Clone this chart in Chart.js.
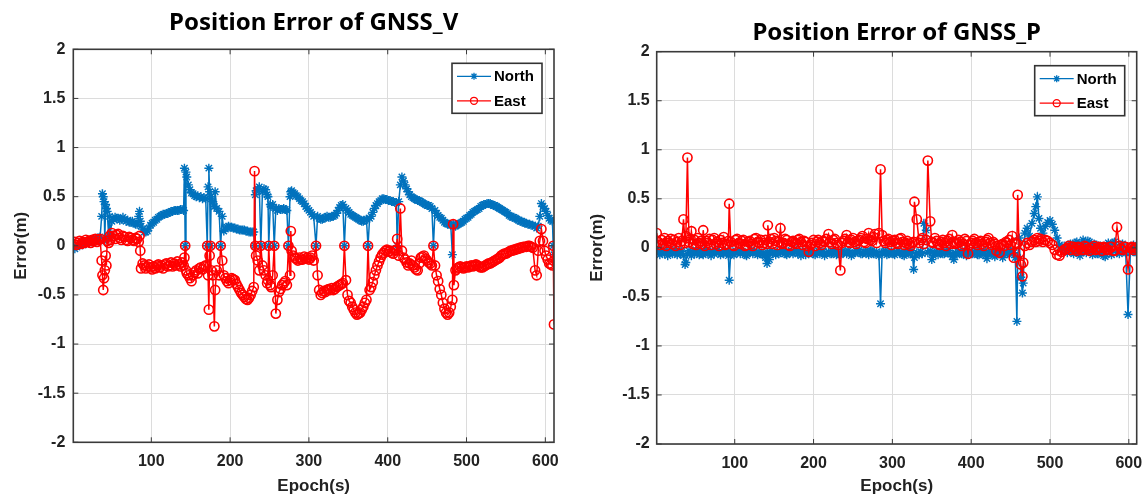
<!DOCTYPE html>
<html lang="en">
<head>
<meta charset="utf-8">
<title>Position Error of GNSS</title>
<script src="https://cdn.jsdelivr.net/npm/chart.js@4.4.0/dist/chart.umd.min.js"></script>
<style>
  body { margin: 0; background: #fff; overflow: hidden; }
  .plot { position: absolute; top: 0; height: 500px; }
  #boxV { left: 0; width: 580px; }
  #boxP { left: 580px; width: 580px; }
</style>
</head>
<body>
<div class="plot" id="boxV"><canvas id="chartV"></canvas></div>
<div class="plot" id="boxP"><canvas id="chartP"></canvas></div>

<script>
// ---- GNSS_V : epoch (s), north / east error (m)
// one line per stretch of the record so the three arrays stay aligned
const epochV = [
  1, 3, 5, 7, 9, 11, 13, 15, 17, 19, 21, 23, 25, 27, 29, 31, 33, 35,
  37, 38, 39, 40, 41, 42, 43, 44, 46, 47, 48,
  50, 52, 54, 56, 58, 60, 62, 64, 66, 68, 70, 72, 74, 76, 78, 80, 82,
  84, 85, 86, 87, 89,
  91, 93, 95, 97, 99, 101, 103, 105, 107, 109, 111, 113, 115, 117, 119, 121, 123, 125, 127, 129, 131, 133, 135, 137, 139,
  141, 142, 143, 144, 145,
  147, 149, 151, 153, 155, 157, 159, 161, 163, 165, 167, 169,
  171, 172, 173, 174, 175, 176, 178, 180, 181, 183,
  186, 188, 190, 192,
  194, 196, 198, 200, 202, 204, 206, 208, 210, 212, 214, 216, 218, 220, 222, 224, 226, 228, 230,
  231, 232, 233, 235, 237, 239, 241, 243, 245, 247, 248, 249, 251, 252, 254, 256, 258, 260, 262, 264, 266, 268, 270, 272, 274,
  276, 277, 278,
  280, 282, 284, 286, 288, 290, 292, 294, 296, 298, 300, 302, 304, 306,
  309, 311, 313,
  315, 317, 319, 321, 323, 325, 327, 329, 331, 333, 335, 337, 339, 341, 343,
  345, 347,
  349, 351, 353, 355, 357, 359, 361, 363, 365, 367, 369, 371, 373,
  375,
  377, 379, 381, 383, 385, 387, 389, 391, 393, 395, 397, 399, 401, 403, 405, 407, 409, 411,
  412, 414, 416, 418, 420,
  422, 424, 426, 428, 430, 432, 434, 436, 438, 440, 442, 444, 446, 448, 450, 452, 454, 456,
  458,
  460, 462, 464, 466, 468, 470, 472, 474, 476, 478, 480,
  482, 483, 484, 486,
  488, 490, 492, 494, 496, 498, 500, 502, 504, 506, 508, 510, 512, 514, 516, 518, 520, 522, 524, 526,
  528, 530, 532, 534, 536, 538, 540, 542, 544, 546, 548, 550, 552, 554, 556, 558, 560, 562, 564, 566,
  568, 570, 572, 574, 576, 578, 580, 582, 584,
  587, 589, 591, 593, 595, 597, 599, 601, 603, 605, 607, 609, 610, 611
];
const northV = [
  0.00, -0.03, -0.01, 0.01, 0.00, 0.02, 0.01, 0.03, 0.02, 0.04, 0.03, 0.05, 0.04, 0.06, 0.07, 0.06, 0.08, 0.09,
  0.30, 0.53, 0.50, 0.45, 0.05, 0.42, 0.38, 0.35, 0.08, 0.30, 0.12,
  0.25, 0.27, 0.29, 0.28, 0.28, 0.26, 0.27, 0.29, 0.27, 0.25, 0.26, 0.24, 0.24, 0.25, 0.23, 0.22, 0.22,
  0.30, 0.35, 0.25, 0.20, 0.17,
  0.14, 0.14, 0.15, 0.18, 0.21, 0.23, 0.24, 0.26, 0.27, 0.29, 0.30, 0.31, 0.32, 0.32, 0.33, 0.33, 0.34, 0.35, 0.35, 0.36, 0.36, 0.36, 0.36, 0.37, 0.37,
  0.36, 0.79, 0.00, 0.75, 0.70,
  0.62, 0.57, 0.54, 0.53, 0.51, 0.50, 0.51, 0.49, 0.50, 0.48, 0.49, 0.48,
  0.00, 0.60, 0.79, 0.55, 0.00, 0.50, 0.45, 0.40, 0.55, 0.38,
  0.35, 0.00, 0.30, 0.15,
  0.17, 0.19, 0.20, 0.19, 0.19, 0.18, 0.18, 0.17, 0.17, 0.16, 0.16, 0.16, 0.16, 0.15, 0.15, 0.14, 0.14, 0.14, 0.14,
  0.00, 0.52, 0.56, 0.58, 0.60, 0.00, 0.55, 0.58, 0.57, 0.52, 0.50, 0.00, 0.42, 0.40, 0.42, 0.00, 0.38, 0.36, 0.38, 0.37, 0.37, 0.38, 0.37, 0.36, 0.00,
  0.50, 0.55, 0.56,
  0.54, 0.53, 0.51, 0.50, 0.48, 0.46, 0.45, 0.43, 0.40, 0.38, 0.36, 0.34, 0.32, 0.30,
  0.00, 0.30, 0.28,
  0.27, 0.27, 0.28, 0.29, 0.30, 0.29, 0.29, 0.30, 0.30, 0.31, 0.33, 0.36, 0.39, 0.41, 0.42,
  0.00, 0.38,
  0.36, 0.34, 0.32, 0.31, 0.30, 0.29, 0.28, 0.27, 0.26, 0.25, 0.25, 0.26, 0.27,
  0.00,
  0.28, 0.30, 0.34, 0.38, 0.41, 0.43, 0.45, 0.46, 0.48, 0.48, 0.47, 0.47, 0.46, 0.46, 0.45, 0.45, 0.44, 0.44,
  0.00, 0.45, 0.62, 0.70, 0.66,
  0.62, 0.58, 0.55, 0.52, 0.50, 0.49, 0.48, 0.47, 0.46, 0.46, 0.45, 0.44, 0.43, 0.42, 0.41, 0.41, 0.40, 0.38,
  0.00,
  0.36, 0.33, 0.31, 0.29, 0.28, 0.26, 0.24, 0.23, 0.22, 0.22, 0.21,
  -0.09, 0.22, 0.21, 0.20,
  0.21, 0.22, 0.23, 0.24, 0.25, 0.27, 0.28, 0.29, 0.31, 0.32, 0.34, 0.35, 0.36, 0.37, 0.38, 0.40, 0.41, 0.42, 0.42, 0.43,
  0.43, 0.43, 0.42, 0.41, 0.41, 0.40, 0.39, 0.38, 0.37, 0.36, 0.35, 0.34, 0.33, 0.31, 0.30, 0.29, 0.29, 0.28, 0.27, 0.26,
  0.25, 0.25, 0.24, 0.23, 0.23, 0.22, 0.22, 0.21, 0.21,
  0.20, 0.18, 0.20, 0.30, 0.43, 0.40, 0.38, 0.35, 0.31, 0.28, 0.26, 0.25, 0.00, -0.09
];
const eastV = [
  0.02, 0.04, 0.01, 0.03, 0.05, 0.02, 0.04, 0.03, 0.06, 0.04, 0.05, 0.03, 0.06, 0.05, 0.07, 0.04, 0.06, 0.07,
  -0.15, -0.30, -0.45, -0.33, -0.25, -0.10, -0.20, 0.05, 0.03, 0.10, 0.06,
  0.13, 0.10, 0.07, 0.11, 0.12, 0.08, 0.06, 0.10, 0.09, 0.06, 0.05, 0.09, 0.08, 0.06, 0.05, 0.08, 0.07,
  0.04, 0.10, -0.05, -0.23, -0.18,
  -0.20, -0.23, -0.21, -0.19, -0.22, -0.24, -0.21, -0.23, -0.20, -0.19, -0.22, -0.20, -0.23, -0.19, -0.18, -0.21, -0.20, -0.17, -0.21, -0.18, -0.20, -0.16, -0.19, -0.21, -0.17,
  -0.20, -0.12, 0.00, -0.25, -0.28,
  -0.30, -0.33, -0.36, -0.30, -0.27, -0.25, -0.28, -0.23, -0.22, -0.24, -0.21, -0.20,
  0.00, -0.30, -0.65, -0.10, 0.00, -0.25, -0.30, -0.82, -0.45, -0.25,
  -0.30, 0.00, -0.15, -0.30,
  -0.33, -0.36, -0.38, -0.35, -0.33, -0.34, -0.35, -0.39, -0.42, -0.45, -0.48, -0.50, -0.52, -0.54, -0.55, -0.53, -0.50, -0.46, -0.42,
  0.76, 0.00, -0.10, -0.15, -0.25, 0.00, -0.20, -0.25, -0.30, -0.38, -0.35, 0.00, -0.40, -0.42, -0.30, 0.00, -0.69, -0.55, -0.47, -0.44, -0.40, -0.38, -0.36, -0.40, 0.00,
  -0.30, 0.15, -0.05,
  -0.10, -0.12, -0.13, -0.15, -0.12, -0.14, -0.14, -0.11, -0.13, -0.12, -0.14, -0.12, -0.10, -0.15,
  0.00, -0.30, -0.45,
  -0.50, -0.48, -0.46, -0.47, -0.45, -0.44, -0.45, -0.43, -0.45, -0.44, -0.42, -0.41, -0.40, -0.39, -0.38,
  0.00, -0.35,
  -0.50, -0.56, -0.58, -0.62, -0.65, -0.68, -0.70, -0.69, -0.68, -0.65, -0.62, -0.58, -0.55,
  0.00,
  -0.45, -0.42, -0.37, -0.30, -0.25, -0.20, -0.16, -0.12, -0.09, -0.07, -0.05, -0.04, -0.06, -0.05, -0.07, -0.08, -0.05, -0.04,
  0.07, -0.10, 0.38, -0.05, -0.12,
  -0.14, -0.17, -0.20, -0.18, -0.15, -0.20, -0.22, -0.24, -0.25, -0.18, -0.12, -0.11, -0.10, -0.13, -0.15, -0.17, -0.18, -0.20,
  0.00,
  -0.20, -0.30, -0.36, -0.44, -0.50, -0.58, -0.64, -0.68, -0.70, -0.68, -0.62,
  -0.55, 0.22, -0.40, -0.25,
  -0.23, -0.22, -0.21, -0.22, -0.23, -0.22, -0.21, -0.22, -0.21, -0.20, -0.21, -0.20, -0.19, -0.20, -0.21, -0.22, -0.22, -0.21, -0.20, -0.19,
  -0.18, -0.18, -0.17, -0.16, -0.15, -0.14, -0.13, -0.12, -0.10, -0.09, -0.08, -0.08, -0.07, -0.06, -0.05, -0.05, -0.04, -0.04, -0.03, -0.03,
  -0.02, -0.02, -0.01, -0.01, -0.01, 0.00, 0.00, -0.01, -0.02,
  -0.25, -0.30, -0.05, 0.05, 0.17, 0.05, -0.05, -0.10, -0.14, -0.18, -0.19, -0.20, 0.00, -0.80
];

// ---- GNSS_P : right panel
const epochP = [
  1, 3, 5, 7, 9, 11, 13, 15, 17, 19,
  21, 23, 25, 27, 29, 31, 33, 35, 37, 38,
  40, 42, 44, 45, 47, 49, 51, 53, 55, 57,
  59, 60, 62, 64, 66, 68, 70, 72, 74, 76,
  78, 80, 82, 84, 86, 88, 90, 92, 93, 95,
  97, 99, 101, 103, 105, 107, 109, 111, 113, 115,
  117, 119, 121, 123, 125, 127, 129, 131, 133, 135,
  137, 139, 141, 142, 144, 146, 148, 150, 152, 154,
  156, 158, 160, 162, 164, 166, 168, 170, 172, 174,
  176, 178, 180, 182, 184, 186, 188, 190, 192, 194,
  196, 198, 200, 202, 204, 206, 208, 210, 212, 214,
  216, 219, 221, 223, 225, 227, 229, 231, 234, 236,
  238, 240, 242, 244, 246, 248, 250, 252, 254, 256,
  258, 260, 262, 264, 266, 268, 270, 272, 274, 276,
  278, 280, 283, 285, 287, 289, 291, 293, 295, 297,
  299, 301, 303, 305, 307, 309, 311, 313, 315, 317,
  319, 321, 323, 325, 327, 328, 331, 334, 336, 338,
  340, 343, 345, 348, 350, 352, 354, 356, 358, 360,
  362, 364, 366, 368, 370, 372, 374, 376, 378, 380,
  382, 384, 386, 388, 390, 392, 394, 396, 398, 400,
  402, 404, 406, 408, 410, 412, 414, 416, 418, 420,
  422, 424, 426, 428, 430, 432, 434, 436, 438, 440,
  442, 444, 446, 448, 450, 452, 454, 456, 458, 459,
  461, 463, 465, 466, 468, 471, 474, 477, 480, 482,
  484, 486, 488, 491, 494, 497, 500, 503, 506, 509,
  512, 515, 518, 520, 522, 524, 526, 528, 530, 532,
  534, 536, 538, 540, 542, 544, 546, 548, 550, 552,
  554, 556, 558, 560, 562, 564, 566, 568, 570, 572,
  574, 576, 578, 580, 582, 585, 588, 590, 592, 594,
  596, 599, 602, 604, 606, 608, 610
];
const northP = [
  -0.05, -0.03, -0.07, -0.04, -0.02, -0.06, -0.04, -0.08, -0.03, -0.05,
  -0.06, -0.02, -0.05, -0.07, -0.03, -0.06, -0.04, -0.08, -0.17, -0.15,
  -0.06, -0.03, -0.05, -0.08, -0.04, -0.06, -0.02, -0.05, -0.07, -0.03,
  -0.06, -0.07, -0.04, -0.02, -0.06, -0.05, -0.08, -0.03, -0.06, -0.04,
  -0.02, -0.05, -0.07, -0.04, -0.06, -0.03, -0.05, -0.08, -0.33, -0.04,
  -0.06, -0.07, -0.03, -0.05, -0.02, -0.06, -0.04, -0.05, -0.07, -0.08,
  -0.04, -0.05, -0.02, -0.06, -0.03, -0.05, -0.07, -0.04, -0.06, -0.07,
  -0.05, -0.10, -0.16, -0.05, -0.12, -0.03, -0.06, -0.04, -0.07, -0.04,
  -0.06, -0.05, -0.02, -0.03, -0.06, -0.07, -0.04, -0.05, -0.03, -0.06,
  -0.04, -0.02, -0.06, -0.05, -0.08, -0.03, -0.05, -0.07, -0.04, -0.06,
  -0.03, -0.04, -0.06, -0.07, -0.05, -0.03, -0.06, -0.05, -0.04, -0.08,
  -0.05, -0.04, -0.06, -0.06, -0.03, -0.03, -0.07, -0.05, -0.07, -0.04,
  -0.05, -0.04, -0.06, -0.03, -0.05, -0.08, -0.06, -0.05, -0.03, -0.04,
  -0.02, -0.06, -0.06, -0.04, -0.04, -0.05, -0.07, -0.03, -0.03, -0.06,
  -0.06, -0.04, -0.08, -0.57, -0.05, -0.04, -0.03, -0.07, -0.06, -0.05,
  -0.04, -0.06, -0.07, -0.04, -0.03, -0.05, -0.05, -0.07, -0.08, -0.04,
  -0.04, -0.06, -0.06, -0.03, -0.22, -0.10, -0.05, -0.07, -0.04, -0.06,
  0.25, 0.18, -0.05, -0.03, -0.12, -0.08, -0.05, -0.04, -0.07, -0.05,
  -0.04, -0.06, -0.06, -0.03, -0.05, -0.03, -0.06, -0.09, -0.12, -0.05,
  -0.07, -0.04, -0.04, -0.06, -0.06, -0.03, -0.08, -0.05, -0.04, -0.06,
  -0.06, -0.04, -0.03, -0.07, -0.07, -0.05, -0.05, -0.03, -0.08, -0.11,
  -0.04, -0.06, -0.06, -0.04, -0.09, -0.07, -0.05, -0.04, -0.07, -0.10,
  -0.04, -0.06, -0.06, -0.03, -0.03, -0.05, -0.05, -0.10, -0.75, -0.10,
  0.10, -0.30, -0.46, -0.36, 0.15, 0.20, 0.12, 0.25, 0.35, 0.42,
  0.52, 0.30, 0.20, 0.15, 0.22, 0.26, 0.28, 0.24, 0.18, 0.10,
  0.03, -0.01, 0.02, -0.03, -0.05, 0.03, 0.04, -0.04, -0.06, 0.05,
  0.06, -0.05, -0.08, 0.04, 0.08, 0.02, -0.05, 0.07, 0.06, -0.03,
  -0.07, 0.04, 0.03, -0.06, -0.06, 0.02, -0.04, -0.08, -0.09, 0.03,
  0.05, -0.04, -0.07, 0.05, 0.06, -0.05, -0.06, 0.03, 0.04, -0.04,
  -0.05, -0.68, -0.05, -0.02, 0.03, -0.04, -0.05
];
const eastP = [
  0.15, 0.06, 0.03, 0.08, 0.04, 0.10, 0.02, 0.07, 0.05, 0.09,
  0.04, 0.08, 0.02, 0.06, 0.10, 0.03, 0.07, 0.29, 0.05, 0.12,
  0.92, 0.06, 0.09, 0.17, 0.04, 0.08, 0.03, 0.10, 0.05, 0.07,
  0.04, 0.18, 0.02, 0.07, 0.05, 0.09, 0.03, 0.08, 0.10, 0.04,
  0.06, 0.02, 0.08, 0.05, 0.11, 0.03, 0.04, 0.07, 0.45, 0.06,
  0.03, 0.02, 0.08, 0.09, 0.05, 0.04, 0.07, 0.08, 0.02, 0.03,
  0.06, 0.07, 0.04, 0.02, 0.09, 0.10, 0.06, 0.05, 0.08, 0.03,
  0.05, 0.08, 0.04, 0.23, 0.06, 0.09, 0.04, 0.10, 0.07, 0.03,
  0.06, 0.20, 0.04, 0.05, 0.09, 0.08, 0.03, 0.02, 0.06, 0.07,
  0.05, 0.04, 0.08, 0.09, 0.06, 0.03, 0.07, 0.06, 0.02, -0.04,
  0.03, 0.05, 0.08, 0.02, 0.06, 0.08, 0.05, 0.03, 0.07, 0.06,
  0.09, 0.14, 0.06, 0.04, 0.08, 0.09, 0.05, 0.03, -0.23, 0.05,
  0.07, 0.09, 0.13, 0.06, 0.05, 0.08, 0.10, 0.06, 0.04, 0.07,
  0.08, 0.10, 0.12, 0.06, 0.05, 0.09, 0.15, 0.08, 0.07, 0.11,
  0.14, 0.05, 0.15, 0.80, 0.13, 0.07, 0.05, 0.08, 0.09, 0.06,
  0.03, 0.07, 0.08, 0.05, 0.04, 0.09, 0.10, 0.06, 0.03, 0.05,
  0.07, 0.04, 0.02, 0.05, 0.06, 0.47, 0.29, 0.05, 0.08, 0.10,
  0.04, 0.08, 0.89, 0.27, 0.06, 0.05, 0.10, 0.07, 0.04, 0.03,
  0.06, 0.08, 0.05, 0.02, 0.07, 0.09, 0.04, 0.13, 0.06, 0.04,
  0.05, 0.08, 0.06, 0.02, 0.04, 0.09, 0.07, -0.06, 0.03, 0.05,
  0.07, 0.09, 0.05, 0.03, 0.06, 0.07, 0.04, 0.02, 0.06, 0.08,
  0.10, 0.05, 0.03, 0.06, 0.04, -0.03, 0.02, -0.05, 0.03, 0.04,
  0.02, 0.06, 0.05, 0.08, 0.03, 0.12, -0.10, 0.05, 0.04, 0.54,
  -0.05, -0.17, -0.29, -0.15, 0.02, 0.05, 0.03, 0.06, 0.08, 0.06,
  0.10, 0.07, 0.09, 0.06, 0.08, 0.07, 0.05, 0.03, -0.02, -0.07,
  -0.08, -0.04, -0.02, -0.01, 0.00, 0.02, -0.02, 0.01, 0.01, -0.01,
  -0.03, 0.01, 0.00, -0.02, -0.02, 0.02, 0.01, -0.01, -0.03, 0.00,
  0.00, 0.02, -0.02, -0.01, 0.01, 0.00, -0.03, 0.01, 0.00, -0.02,
  -0.02, 0.01, 0.01, -0.03, -0.03, 0.21, 0.02, -0.01, -0.02, 0.01,
  0.01, -0.22, 0.00, 0.01, -0.02, 0.00, 0.00
];

const xTicks = [100, 200, 300, 400, 500, 600];
const seriesNames = ['North', 'East'];
const seriesColors = ['#0072BD', '#FF0000'];

const tickFont = { family: '"Liberation Sans", Arial, sans-serif', size: 16, weight: 'bold' };
const labelFont = { family: '"Liberation Sans", Arial, sans-serif', size: 17, weight: 'bold' };
const titleFont = { family: '"Noto Sans", sans-serif', size: 24, weight: 'bold' };

// small marker used in the legend box
function drawMarker(ctx, style, cx, cy, r) {
    ctx.beginPath();
    if (style === 'star') {
        for (let k = 0; k < 4; k++) {
            const a = k * Math.PI / 4;
            ctx.moveTo(cx - r * Math.cos(a), cy - r * Math.sin(a));
            ctx.lineTo(cx + r * Math.cos(a), cy + r * Math.sin(a));
        }
    } else {
        ctx.arc(cx, cy, r, 0, 2 * Math.PI);
    }
    ctx.stroke();
}

// MATLAB style box: dark frame, inward ticks on all sides, legend top right
const axesBox = {
    id: 'axesBox',
    afterDraw(chart) {
        const { ctx, chartArea: a, scales: { x, y } } = chart;
        ctx.save();
        ctx.strokeStyle = '#3a3a3a';
        ctx.lineWidth = 1.6;
        ctx.strokeRect(a.left, a.top, a.width, a.height);

        ctx.lineWidth = 1;
        ctx.beginPath();
        xTicks.forEach(v => {
            const px = x.getPixelForValue(v);
            ctx.moveTo(px, a.bottom); ctx.lineTo(px, a.bottom - 5);
            ctx.moveTo(px, a.top); ctx.lineTo(px, a.top + 5);
        });
        y.ticks.forEach(t => {
            const py = y.getPixelForValue(t.value);
            ctx.moveTo(a.left, py); ctx.lineTo(a.left + 5, py);
            ctx.moveTo(a.right, py); ctx.lineTo(a.right - 5, py);
        });
        ctx.stroke();

        const bw = 90, bh = 50;
        const bx = a.right - 12 - bw, by = a.top + 14;
        ctx.fillStyle = '#fff';
        ctx.fillRect(bx, by, bw, bh);
        ctx.strokeStyle = '#333';
        ctx.lineWidth = 1.6;
        ctx.strokeRect(bx, by, bw, bh);

        chart.data.datasets.forEach((ds, i) => {
            const ly = by + 13 + i * 24.5;
            ctx.strokeStyle = ds.borderColor;
            ctx.lineWidth = 1.3;
            ctx.beginPath();
            ctx.moveTo(bx + 5, ly);
            ctx.lineTo(bx + 39, ly);
            ctx.stroke();
            drawMarker(ctx, ds.pointStyle, bx + 22, ly, 3.5);
            ctx.fillStyle = '#000';
            ctx.font = 'bold 15px "Liberation Sans", Arial, sans-serif';
            ctx.textAlign = 'left';
            ctx.textBaseline = 'middle';
            ctx.fillText(ds.label, bx + 42, ly + 1);
        });
        ctx.restore();
    }
};

function makeChart(canvasId, titleText, epochs, north, east, g) {
    const northPts = epochs.map((e, i) => ({ x: e, y: north[i] }));
    const eastPts = epochs.map((e, i) => ({ x: e, y: east[i] }));

    const data = {
        datasets: [
            {
                label: seriesNames[0],
                data: northPts,
                borderColor: seriesColors[0],
                backgroundColor: seriesColors[0],
                borderWidth: 1.5,
                pointStyle: 'star',
                pointRadius: 4.5,
                pointBorderWidth: 1.4,
                tension: 0,
                order: 1
            },
            {
                label: seriesNames[1],
                data: eastPts,
                borderColor: seriesColors[1],
                backgroundColor: 'rgba(0,0,0,0)',
                borderWidth: 1.5,
                pointStyle: 'circle',
                pointRadius: 4.6,
                pointBorderWidth: 1.6,
                tension: 0,
                order: 0
            }
        ]
    };

    const config = {
        type: 'line',
        data: data,
        options: {
            responsive: true,
            maintainAspectRatio: false,
            animation: false,
            events: [],
            layout: { padding: { left: 0, right: g.padRight, top: 0, bottom: 0 } },
            plugins: {
                legend: { display: false },
                tooltip: { enabled: false },
                title: {
                    display: true,
                    text: titleText,
                    fullSize: false,
                    color: '#000',
                    font: titleFont,
                    padding: { top: g.titleTop, bottom: g.titleBottom }
                }
            },
            scales: {
                x: {
                    type: 'linear',
                    min: 1,
                    max: g.xMax,
                    afterBuildTicks: s => { s.ticks = xTicks.map(v => ({ value: v })); },
                    afterFit: s => { s.height = g.xHeight; },
                    grid: { color: '#dcdcdc', drawTicks: false },
                    border: { display: false },
                    ticks: { font: tickFont, color: '#222', padding: 10, maxRotation: 0 },
                    title: { display: true, text: 'Epoch(s)', font: labelFont, color: '#222', padding: { top: 0, bottom: 3 } }
                },
                y: {
                    min: -2,
                    max: 2,
                    afterFit: s => { s.width = g.yWidth; },
                    grid: { color: '#dcdcdc', drawTicks: false },
                    border: { display: false },
                    ticks: {
                        stepSize: 0.5, font: tickFont, color: '#222', padding: g.yPad,
                        callback: v => String(v)
                    },
                    title: { display: true, text: 'Error(m)', font: labelFont, color: '#222', padding: { top: g.yTitlePad, bottom: 0 } }
                }
            }
        },
        plugins: [axesBox]
    };

    return new Chart(document.getElementById(canvasId), config);
}

makeChart('chartV', 'Position Error of GNSS_V', epochV, northV, eastV,
    { padRight: 26, titleTop: 9, titleBottom: 11.5, xMax: 611, xHeight: 57.7, yWidth: 73.3, yPad: 8, yTitlePad: 11 });
makeChart('chartP', 'Position Error of GNSS_P', epochP, northP, eastP,
    { padRight: 23.3, titleTop: 19, titleBottom: 3.9, xMax: 610, xHeight: 56, yWidth: 76.7, yPad: 7, yTitlePad: 7 });
</script>
</body>
</html>
